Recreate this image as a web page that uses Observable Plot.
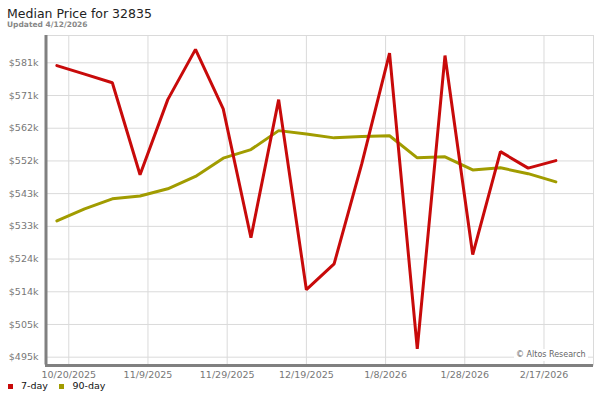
<!DOCTYPE html>
<html>
<head>
<meta charset="utf-8">
<script src="https://cdn.jsdelivr.net/npm/d3@7"></script>
<script src="https://cdn.jsdelivr.net/npm/@observablehq/plot@0.6"></script>
<style>
  html, body { margin: 0; padding: 0; background: #fff; }
  #page { position: relative; width: 600px; height: 400px; overflow: hidden; font-family: "DejaVu Sans", sans-serif; }
  .abs { position: absolute; white-space: nowrap; }
  #title { left: 7px; top: 7.7px; font-size: 12.5px; line-height: 12.5px; color: #222; }
  #updated { left: 7px; top: 21.3px; font-size: 7.5px; line-height: 7.5px; color: #888; font-weight: bold; }
  #chart { left: 0; top: 30px; }
  #credit { left: 514px; top: 348.5px; font-size: 8px; line-height: 12px; color: #666; background: #fff; padding: 0 2px; }
  .sw { position: absolute; width: 5px; height: 5px; top: 383.5px; }
  .lg { position: absolute; top: 381px; font-size: 9.5px; line-height: 9.5px; color: #111; }
</style>
</head>
<body>
<div id="page">
  <div id="title" class="abs">Median Price for 32835</div>
  <div id="updated" class="abs">Updated 4/12/2026</div>
  <div id="chart" class="abs"></div>
  <div id="credit" class="abs">© Altos Research</div>
  <div class="sw" style="left:8px; background:#c80a0a;"></div>
  <div class="lg" style="left:21px;">7-day</div>
  <div class="sw" style="left:58.5px; background:#a19c00;"></div>
  <div class="lg" style="left:72.5px;">90-day</div>
</div>
<script>
// ---- data ----
const weekDates = ["2025-10-17","2025-10-24","2025-10-31","2025-11-07","2025-11-14","2025-11-21","2025-11-28",
  "2025-12-05","2025-12-12","2025-12-19","2025-12-26","2026-01-02","2026-01-09","2026-01-16","2026-01-23",
  "2026-01-30","2026-02-06","2026-02-13","2026-02-20"];
const sevenDay = [580100, 577600, 575100, 548400, 570200, 584800, 567500, 530100, 570200, 515000,
  522500, 551600, 583700, 497800, 583000, 525200, 555100, 550300, 552500];
const ninetyDay = [535000, 538500, 541400, 542200, 544300, 547900, 553200, 555700, 561200, 560200,
  559100, 559500, 559700, 553300, 553600, 549800, 550400, 548700, 546300];
const seriesNames = ["7-day", "90-day"];
const seriesColors = ["#c80a0a", "#a19c00"];

const xTickDates = ["2025-10-20","2025-11-09","2025-11-29","2025-12-19","2026-01-08","2026-01-28","2026-02-17"];
const xTickLabels = ["10/20/2025","11/9/2025","11/29/2025","12/19/2025","1/8/2026","1/28/2026","2/17/2026"];
const yTicks = [495400, 504900, 514400, 523900, 533400, 542900, 552400, 561900, 571400, 580900];
const yTickLabels = ["$495k","$505k","$514k","$524k","$533k","$543k","$552k","$562k","$571k","$581k"];
const xDomain = ["2025-10-14T03:00:00Z", "2026-03-01T12:00:00Z"];
const yDomain = [493130, 588830];

// ---- build ----
const parse = s => new Date(s.length === 10 ? s + "T00:00:00Z" : s);
const rows = [];
weekDates.forEach((d, i) => {
  rows.push({date: parse(d), value: sevenDay[i], series: seriesNames[0]});
});
weekDates.forEach((d, i) => {
  rows.push({date: parse(d), value: ninetyDay[i], series: seriesNames[1]});
});
const xTicks = xTickDates.map(parse);
const xLabelMap = new Map(xTicks.map((d, i) => [+d, xTickLabels[i]]));
const yLabelMap = new Map(yTicks.map((v, i) => [v, yTickLabels[i]]));
const xDom = xDomain.map(parse);
const gridColor = "#dadada";
const axisColor = "#808080";

const chart = Plot.plot({
  width: 600,
  height: 350,
  marginTop: 5,
  marginBottom: 15.5,
  marginLeft: 45,
  marginRight: 7,
  style: {fontFamily: "DejaVu Sans, sans-serif", fontSize: "9.5px", color: "#777", background: "transparent"},
  x: {type: "utc", domain: xDom},
  y: {domain: yDomain},
  color: {domain: seriesNames, range: seriesColors},
  marks: [
    Plot.gridX(xTicks, {stroke: gridColor, strokeOpacity: 1}),
    Plot.gridY(yTicks, {stroke: gridColor, strokeOpacity: 1}),
    Plot.frame({stroke: gridColor}),
    Plot.axisX(xTicks, {tickSize: 0, tickPadding: 6, label: null, fill: "#777",
      tickFormat: d => xLabelMap.get(+d)}),
    Plot.axisY(yTicks, {tickSize: 0, tickPadding: 7, label: null, fill: "#777",
      tickFormat: v => yLabelMap.get(v)}),
    Plot.line(rows.filter(r => r.series === seriesNames[1]), {x: "date", y: "value", stroke: "series",
      strokeWidth: 3, strokeLinejoin: "miter"}),
    Plot.line(rows.filter(r => r.series === seriesNames[0]), {x: "date", y: "value", stroke: "series",
      strokeWidth: 3, strokeLinejoin: "miter"}),
    Plot.ruleY([yDomain[0]], {stroke: axisColor, strokeWidth: 3, dy: 0.5, strokeOpacity: 1}),
    Plot.ruleX([xDom[0]], {stroke: axisColor, strokeWidth: 3, dx: 0.5, strokeOpacity: 1})
  ]
});
document.getElementById("chart").appendChild(chart);
</script>
</body>
</html>
